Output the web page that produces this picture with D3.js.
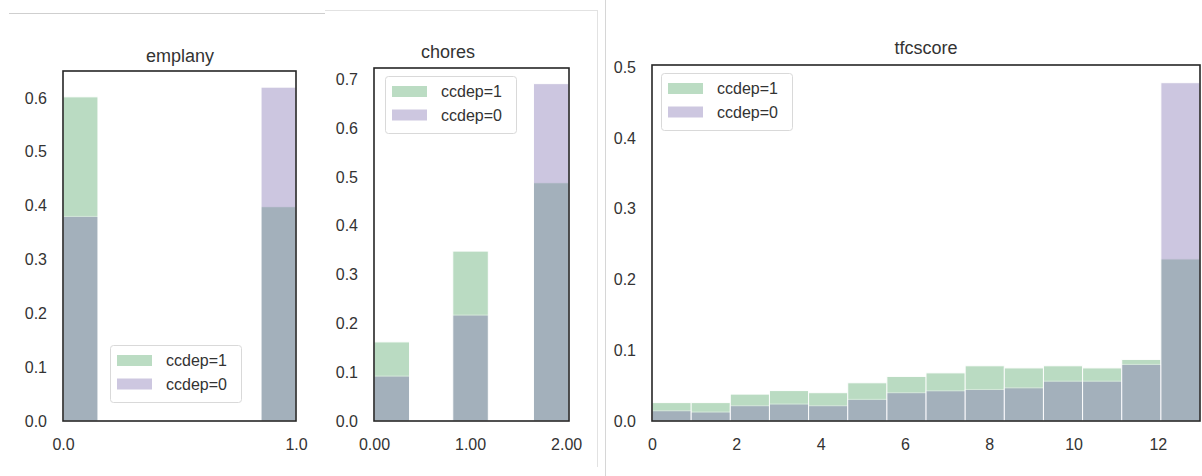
<!DOCTYPE html>
<html><head><meta charset="utf-8">
<script src="https://cdn.jsdelivr.net/npm/d3@7"></script>
<style>
body{margin:0;background:#fff}
svg{display:block}
text{font-family:"Liberation Sans",Arial,sans-serif}
</style>
</head><body>
<svg id="c" width="1202" height="476"></svg>
<script>
// ---------- data ----------
const seriesNames = ["ccdep=1", "ccdep=0"];

const emplanyValues = [0, 1];
const emplanyBinStart = [0, 0.85];
const emplanyBinWidth = 0.15;
const emplanyCcdep1 = [0.602, 0.398];
const emplanyCcdep0 = [0.380, 0.620];
const emplanyXTicks = [0, 1];
const emplanyYTicks = [0, 0.1, 0.2, 0.3, 0.4, 0.5, 0.6];

const choresValues = [0, 1, 2];
const choresBinStart = [0, 0.82, 1.66];
const choresBinWidth = 0.37;
const choresCcdep1 = [0.162, 0.348, 0.488];
const choresCcdep0 = [0.092, 0.217, 0.691];
const choresXTicks = [0, 1, 2];
const choresYTicks = [0, 0.1, 0.2, 0.3, 0.4, 0.5, 0.6, 0.7];

const tfcValues = [0, 1, 2, 3, 4, 5, 6, 7, 8, 9, 10, 11, 12, 13];
const tfcCcdep1 = [0.026, 0.026, 0.038, 0.043, 0.040, 0.054, 0.063, 0.068, 0.078, 0.075, 0.078, 0.075, 0.087, 0.229];
const tfcCcdep0 = [0.0145, 0.0127, 0.0216, 0.024, 0.0216, 0.0306, 0.040, 0.0427, 0.0446, 0.0469, 0.0563, 0.0563, 0.080, 0.478];
const tfcXTicks = [0, 2, 4, 6, 8, 10, 12];
const tfcYTicks = [0, 0.1, 0.2, 0.3, 0.4, 0.5];

// ---------- style ----------
const GREEN = "#55A868", PURPLE = "#8172B2", ALPHA = 0.4;
const TEXT = "#333";

const svg = d3.select("#c");

// background separators of the composite screenshot
svg.append("line").attr("x1",9).attr("x2",325).attr("y1",13.5).attr("y2",13.5).attr("stroke","#cfcfcf").attr("stroke-width",1);
svg.append("line").attr("x1",325).attr("x2",597).attr("y1",10.5).attr("y2",10.5).attr("stroke","#e2e2e2").attr("stroke-width",1);
svg.append("line").attr("x1",597.5).attr("x2",597.5).attr("y1",10).attr("y2",467).attr("stroke","#e2e2e2").attr("stroke-width",1);
svg.append("line").attr("x1",605.5).attr("x2",605.5).attr("y1",0).attr("y2",476).attr("stroke","#d6d6d6").attr("stroke-width",1);

const panels = [
  { title:"emplany", titleX:180, titleY:62,
    left:63, right:296, top:71, bottom:421, xDomain:[0,1], yMax:0.65,
    binStart:emplanyBinStart, binWidth:emplanyBinWidth, s1:emplanyCcdep1, s0:emplanyCcdep0,
    xTicks:emplanyXTicks, xFmt:".1f", yTicks:emplanyYTicks, legend:{x:110,y:345} },
  { title:"chores", titleX:448, titleY:58,
    left:374, right:569, top:68, bottom:421, xDomain:[0,2.03], yMax:0.723,
    binStart:choresBinStart, binWidth:choresBinWidth, s1:choresCcdep1, s0:choresCcdep0,
    xTicks:choresXTicks, xFmt:".2f", yTicks:choresYTicks, legend:{x:385,y:76} },
  { title:"tfcscore", titleX:926, titleY:54,
    left:652, right:1200, top:65, bottom:421, xDomain:[0,13], yMax:0.503,
    binStart:tfcValues.map(v => v*13/14), binWidth:13/14, s1:tfcCcdep1, s0:tfcCcdep0,
    xTicks:tfcXTicks, xFmt:"d", yTicks:tfcYTicks, legend:{x:661,y:73} }
];

panels.forEach(cfg => {
  const x = d3.scaleLinear().domain(cfg.xDomain).range([cfg.left, cfg.right]);
  const y = d3.scaleLinear().domain([0, cfg.yMax]).range([cfg.bottom, cfg.top]);
  const g = svg.append("g");

  [{vals:cfg.s1, color:GREEN}, {vals:cfg.s0, color:PURPLE}].forEach(s => {
    g.append("g").selectAll("rect")
      .data(cfg.binStart.map((b,i) => ({b, v:s.vals[i]})))
      .join("rect")
      .attr("x", d => x(d.b))
      .attr("width", d => x(d.b + cfg.binWidth) - x(d.b))
      .attr("y", d => y(d.v))
      .attr("height", d => y(0) - y(d.v))
      .attr("fill", s.color)
      .attr("stroke", "#fff")
      .attr("stroke-width", 1)
      .attr("opacity", ALPHA);
  });

  // frame
  g.append("rect").attr("x",cfg.left).attr("y",cfg.top)
    .attr("width",cfg.right-cfg.left).attr("height",cfg.bottom-cfg.top)
    .attr("fill","none").attr("stroke","#262626").attr("stroke-width",1.6);

  // axes
  const ya = g.append("g").attr("transform",`translate(${cfg.left},0)`)
    .call(d3.axisLeft(y).tickValues(cfg.yTicks).tickFormat(d3.format(".1f")).tickSize(0).tickPadding(16));
  const xa = g.append("g").attr("transform",`translate(0,${cfg.bottom})`)
    .call(d3.axisBottom(x).tickValues(cfg.xTicks).tickFormat(d3.format(cfg.xFmt)).tickSize(0).tickPadding(18));
  [ya, xa].forEach(a => {
    a.select(".domain").remove();
    a.attr("font-family", '"Liberation Sans",Arial,sans-serif').attr("font-size", 16).attr("color", TEXT);
  });

  // title
  g.append("text").attr("x",cfg.titleX).attr("y",cfg.titleY).attr("text-anchor","middle")
    .attr("font-size",18).attr("fill",TEXT).text(cfg.title);

  // legend
  const lg = g.append("g").attr("transform",`translate(${cfg.legend.x},${cfg.legend.y})`);
  lg.append("rect").attr("x",0.5).attr("y",0.5).attr("width",131).attr("height",57).attr("rx",3)
    .attr("fill","#fff").attr("stroke","#d9d9d9").attr("stroke-width",1);
  [GREEN, PURPLE].forEach((c,i) => {
    lg.append("rect").attr("x",7).attr("y",10 + i*23.5).attr("width",35).attr("height",11)
      .attr("fill",c).attr("opacity",ALPHA);
    lg.append("text").attr("x",56).attr("y",15.5 + i*23.5).attr("dy","0.35em")
      .attr("font-size",16).attr("fill",TEXT).text(seriesNames[i]);
  });
});
</script>
</body></html>
